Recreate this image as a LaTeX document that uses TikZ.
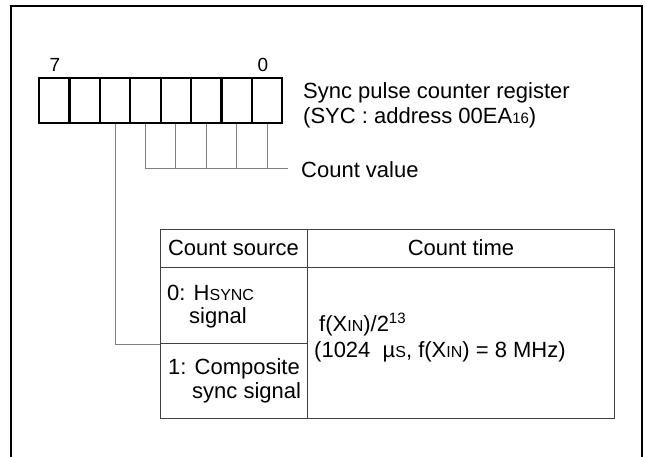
\documentclass[tikz,border=0pt]{standalone}
\usepackage{fontspec}
\setmainfont{Liberation Sans}
\usetikzlibrary{positioning}
\newcommand{\minicaps}[1]{{\fontsize{16}{18}\selectfont #1}}
\newcommand{\supsmall}[1]{\raisebox{7.5pt}{\fontsize{15}{16}\selectfont #1}}
\newcommand{\subsmall}[1]{{\fontsize{15}{16}\selectfont #1}}
\tikzset{
	bitcell/.style={draw, line width=2.2pt, minimum width=30.4pt, minimum height=45pt, inner sep=0pt},
	cell/.style={draw=black!75, line width=1pt, anchor=north west, inner sep=0pt},
	wire/.style={draw=gray, line width=1pt},
	txt/.style={inner sep=0pt, font=\fontsize{22}{24}\selectfont},
}
\begin{document}
\begin{tikzpicture}[x=1pt,y=-1pt]
		\useasboundingbox (0,0) rectangle (646,456);
		% frame
		\draw[line width=2.4pt] (11,458) -- (11,6) -- (642,6) -- (642,458);
		% register
		\foreach \b in {7,...,0}
			\node[bitcell] (b\b) at ({39+30.4*(7.5-\b)},100.5) {};
		\node[txt, anchor=base, font=\fontsize{19}{22}\selectfont] (n7) at (55,71.7) {7};
		\node[txt, anchor=base, font=\fontsize{19}{22}\selectfont] (n0) at (263,71.7) {0};
		\node[txt, anchor=base west] (reg1) at (303,98) {Sync pulse counter register};
		\node[txt, anchor=base west] (reg2) at (303,123) {(SYC : address 00EA\subsmall{16})};
		% table
		\node[cell, minimum width=147pt, minimum height=38pt] (hsrc) at (160,229) {};
		\node[cell, minimum width=307pt, minimum height=38pt] (htime) at (307,229) {};
		\node[cell, minimum width=147pt, minimum height=76pt] (src0) at (160,267) {};
		\node[cell, minimum width=147pt, minimum height=75pt] (src1) at (160,343) {};
		\node[cell, minimum width=307pt, minimum height=151pt] (ctime) at (307,267) {};
		\node[txt, anchor=base] (tsrc) at (233.5,255.7) {Count source};
		\node[txt, anchor=base] (ttime) at (461,255.7) {Count time};
		\node[txt, anchor=base west] (s0a) at (167,300) {0: H\minicaps{SYNC}};
		\node[txt, anchor=base west] (s0b) at (189,323) {signal};
		\node[txt, anchor=base west] (s1a) at (168,374) {1: Composite};
		\node[txt, anchor=base west] (s1b) at (192,398) {sync signal};
		\node[txt, anchor=base west] (t1) at (319,331) {f(X\minicaps{IN})/2\supsmall{13}};
		\node[txt, anchor=base west] (t2) at (314,357) {(1024\ \ µ\minicaps{S}, f(X\minicaps{IN}) = 8 MHz)};
		% connectors
		\coordinate (cv) at (288,168);
		\foreach \b in {4,...,0}
			\draw[wire] (b\b.south) -- (b\b.south |- cv);
		\draw[wire] (b4.south |- cv) -- (cv);
		\node[txt, anchor=base west] (cvlab) at (301,177) {Count value};
		\draw[wire] (b5.south) |- (src0.south west);
	\end{tikzpicture}
\end{document}
